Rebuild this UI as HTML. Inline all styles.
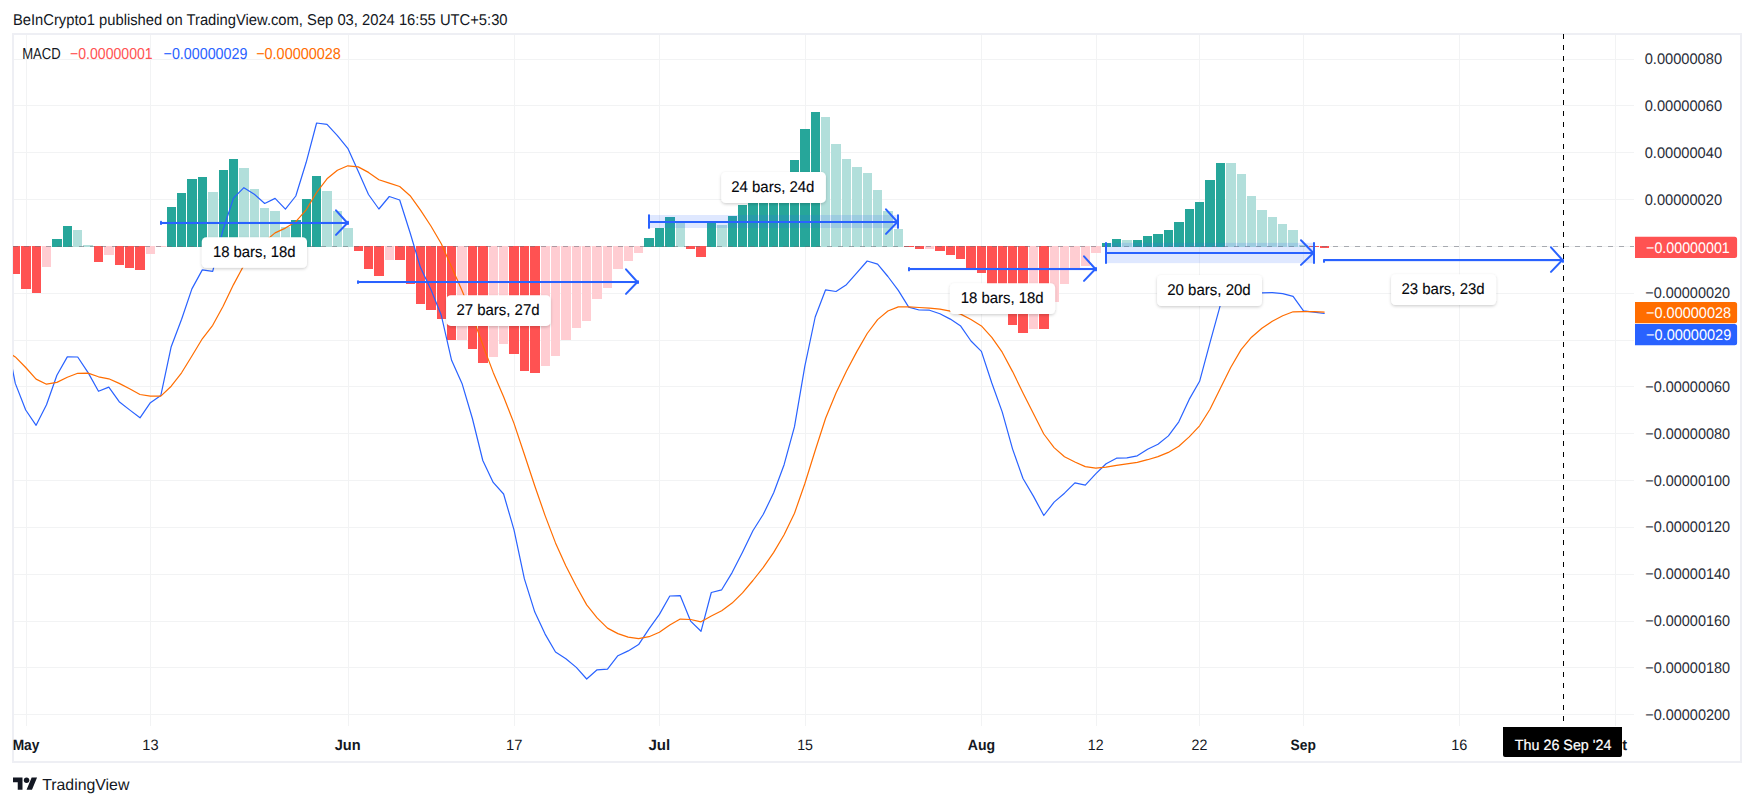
<!DOCTYPE html>
<html lang="en"><head><meta charset="utf-8"><title>MACD chart - TradingView</title>
<style>html,body{margin:0;padding:0;background:#fff;}body{width:1754px;height:806px;overflow:hidden;font-family:"Liberation Sans", Arial, Helvetica, sans-serif;}svg{display:block;}text{font-family:"Liberation Sans", Arial, Helvetica, sans-serif;text-rendering:geometricPrecision;}</style>
</head><body>
<svg width="1754" height="806" viewBox="0 0 1754 806">
<defs><clipPath id="pane"><rect x="13" y="35" width="1621" height="691"/></clipPath><clipPath id="taxis"><rect x="13" y="726" width="1727" height="35"/></clipPath><filter id="sh" x="-10%" y="-20%" width="120%" height="150%"><feDropShadow dx="0" dy="1.2" stdDeviation="1.6" flood-color="#000" flood-opacity="0.2"/></filter></defs>
<rect x="0" y="0" width="1754" height="806" fill="#ffffff"/>
<text x="12.95" y="25.0" font-size="15.6" fill="#131722" font-weight="normal" textLength="494.64" lengthAdjust="spacingAndGlyphs">BeInCrypto1 published on TradingView.com, Sep 03, 2024 16:55 UTC+5:30</text>
<rect x="13" y="34" width="1728" height="728" fill="#ffffff" stroke="#eeeff4" stroke-width="2"/>
<g stroke="#f2f3f4" stroke-width="1" shape-rendering="crispEdges"><line x1="14" x2="1634" y1="59.5" y2="59.5"/><line x1="14" x2="1634" y1="105.5" y2="105.5"/><line x1="14" x2="1634" y1="152.5" y2="152.5"/><line x1="14" x2="1634" y1="199.5" y2="199.5"/><line x1="14" x2="1634" y1="246.5" y2="246.5"/><line x1="14" x2="1634" y1="293.5" y2="293.5"/><line x1="14" x2="1634" y1="340.5" y2="340.5"/><line x1="14" x2="1634" y1="386.5" y2="386.5"/><line x1="14" x2="1634" y1="433.5" y2="433.5"/><line x1="14" x2="1634" y1="480.5" y2="480.5"/><line x1="14" x2="1634" y1="527.5" y2="527.5"/><line x1="14" x2="1634" y1="574.5" y2="574.5"/><line x1="14" x2="1634" y1="621.5" y2="621.5"/><line x1="14" x2="1634" y1="667.5" y2="667.5"/><line x1="14" x2="1634" y1="714.5" y2="714.5"/><line x1="26.5" x2="26.5" y1="35" y2="726"/><line x1="150.5" x2="150.5" y1="35" y2="726"/><line x1="348.5" x2="348.5" y1="35" y2="726"/><line x1="514.5" x2="514.5" y1="35" y2="726"/><line x1="659.5" x2="659.5" y1="35" y2="726"/><line x1="805.5" x2="805.5" y1="35" y2="726"/><line x1="981.5" x2="981.5" y1="35" y2="726"/><line x1="1096.5" x2="1096.5" y1="35" y2="726"/><line x1="1199.5" x2="1199.5" y1="35" y2="726"/><line x1="1303.5" x2="1303.5" y1="35" y2="726"/><line x1="1459.5" x2="1459.5" y1="35" y2="726"/><line x1="1615.5" x2="1615.5" y1="35" y2="726"/></g>
<g clip-path="url(#pane)" shape-rendering="crispEdges"><rect x="11" y="246" width="9" height="28" fill="#ff5252"/><rect x="21" y="246" width="10" height="43" fill="#ff5252"/><rect x="32" y="246" width="9" height="47" fill="#ff5252"/><rect x="42" y="246" width="9" height="21" fill="#ffcdd2"/><rect x="52" y="239" width="10" height="8" fill="#26a69a"/><rect x="63" y="226" width="9" height="21" fill="#26a69a"/><rect x="73" y="230" width="9" height="17" fill="#b2dfdb"/><rect x="83" y="245" width="10" height="2" fill="#b2dfdb"/><rect x="94" y="246" width="9" height="16" fill="#ff5252"/><rect x="104" y="246" width="10" height="9" fill="#ffcdd2"/><rect x="115" y="246" width="9" height="19" fill="#ff5252"/><rect x="125" y="246" width="9" height="22" fill="#ff5252"/><rect x="135" y="246" width="10" height="24" fill="#ff5252"/><rect x="146" y="246" width="9" height="8" fill="#ffcdd2"/><rect x="156" y="246" width="10" height="1" fill="#ffcdd2"/><rect x="167" y="207" width="9" height="40" fill="#26a69a"/><rect x="177" y="193" width="9" height="54" fill="#26a69a"/><rect x="187" y="179" width="10" height="68" fill="#26a69a"/><rect x="198" y="177" width="9" height="70" fill="#26a69a"/><rect x="208" y="192" width="10" height="55" fill="#b2dfdb"/><rect x="219" y="170" width="9" height="77" fill="#26a69a"/><rect x="229" y="159" width="9" height="88" fill="#26a69a"/><rect x="239" y="168" width="10" height="79" fill="#b2dfdb"/><rect x="250" y="189" width="9" height="58" fill="#b2dfdb"/><rect x="260" y="208" width="9" height="39" fill="#b2dfdb"/><rect x="270" y="211" width="10" height="36" fill="#b2dfdb"/><rect x="281" y="227" width="9" height="20" fill="#b2dfdb"/><rect x="291" y="220" width="10" height="27" fill="#26a69a"/><rect x="302" y="199" width="9" height="48" fill="#26a69a"/><rect x="312" y="176" width="9" height="71" fill="#26a69a"/><rect x="322" y="191" width="10" height="56" fill="#b2dfdb"/><rect x="333" y="211" width="9" height="36" fill="#b2dfdb"/><rect x="343" y="228" width="10" height="19" fill="#b2dfdb"/><rect x="354" y="246" width="9" height="5" fill="#ff5252"/><rect x="364" y="246" width="9" height="23" fill="#ff5252"/><rect x="374" y="246" width="10" height="30" fill="#ff5252"/><rect x="385" y="246" width="9" height="14" fill="#ffcdd2"/><rect x="395" y="246" width="10" height="14" fill="#ff5252"/><rect x="406" y="246" width="9" height="38" fill="#ff5252"/><rect x="416" y="246" width="9" height="58" fill="#ff5252"/><rect x="426" y="246" width="10" height="64" fill="#ff5252"/><rect x="437" y="246" width="9" height="73" fill="#ff5252"/><rect x="447" y="246" width="9" height="94" fill="#ff5252"/><rect x="457" y="246" width="10" height="94" fill="#ffcdd2"/><rect x="468" y="246" width="9" height="103" fill="#ff5252"/><rect x="478" y="246" width="10" height="117" fill="#ff5252"/><rect x="489" y="246" width="9" height="111" fill="#ffcdd2"/><rect x="499" y="246" width="9" height="98" fill="#ffcdd2"/><rect x="509" y="246" width="10" height="108" fill="#ff5252"/><rect x="520" y="246" width="9" height="125" fill="#ff5252"/><rect x="530" y="246" width="10" height="127" fill="#ff5252"/><rect x="541" y="246" width="9" height="120" fill="#ffcdd2"/><rect x="551" y="246" width="9" height="110" fill="#ffcdd2"/><rect x="561" y="246" width="10" height="94" fill="#ffcdd2"/><rect x="572" y="246" width="9" height="82" fill="#ffcdd2"/><rect x="582" y="246" width="9" height="75" fill="#ffcdd2"/><rect x="592" y="246" width="10" height="53" fill="#ffcdd2"/><rect x="603" y="246" width="9" height="42" fill="#ffcdd2"/><rect x="613" y="246" width="10" height="23" fill="#ffcdd2"/><rect x="624" y="246" width="9" height="15" fill="#ffcdd2"/><rect x="634" y="246" width="9" height="7" fill="#ffcdd2"/><rect x="644" y="238" width="10" height="9" fill="#26a69a"/><rect x="655" y="228" width="9" height="19" fill="#26a69a"/><rect x="665" y="217" width="10" height="30" fill="#26a69a"/><rect x="676" y="223" width="9" height="24" fill="#b2dfdb"/><rect x="686" y="246" width="9" height="3" fill="#ff5252"/><rect x="696" y="246" width="10" height="11" fill="#ff5252"/><rect x="707" y="223" width="9" height="24" fill="#26a69a"/><rect x="717" y="225" width="10" height="22" fill="#b2dfdb"/><rect x="728" y="216" width="9" height="31" fill="#26a69a"/><rect x="738" y="205" width="9" height="42" fill="#26a69a"/><rect x="748" y="196" width="10" height="51" fill="#26a69a"/><rect x="759" y="193" width="9" height="54" fill="#26a69a"/><rect x="769" y="186" width="9" height="61" fill="#26a69a"/><rect x="779" y="176" width="10" height="71" fill="#26a69a"/><rect x="790" y="160" width="9" height="87" fill="#26a69a"/><rect x="800" y="129" width="10" height="118" fill="#26a69a"/><rect x="811" y="112" width="9" height="135" fill="#26a69a"/><rect x="821" y="117" width="9" height="130" fill="#b2dfdb"/><rect x="831" y="144" width="10" height="103" fill="#b2dfdb"/><rect x="842" y="159" width="9" height="88" fill="#b2dfdb"/><rect x="852" y="167" width="10" height="80" fill="#b2dfdb"/><rect x="863" y="173" width="9" height="74" fill="#b2dfdb"/><rect x="873" y="190" width="9" height="57" fill="#b2dfdb"/><rect x="883" y="211" width="10" height="36" fill="#b2dfdb"/><rect x="894" y="229" width="9" height="18" fill="#b2dfdb"/><rect x="904" y="246" width="10" height="1" fill="#ff5252"/><rect x="915" y="246" width="9" height="3" fill="#ff5252"/><rect x="925" y="246" width="9" height="3" fill="#ffcdd2"/><rect x="935" y="246" width="10" height="5" fill="#ff5252"/><rect x="946" y="246" width="9" height="9" fill="#ff5252"/><rect x="956" y="246" width="9" height="13" fill="#ff5252"/><rect x="966" y="246" width="10" height="23" fill="#ff5252"/><rect x="977" y="246" width="9" height="27" fill="#ff5252"/><rect x="987" y="246" width="10" height="47" fill="#ff5252"/><rect x="998" y="246" width="9" height="61" fill="#ff5252"/><rect x="1008" y="246" width="9" height="79" fill="#ff5252"/><rect x="1018" y="246" width="10" height="87" fill="#ff5252"/><rect x="1029" y="246" width="9" height="83" fill="#ffcdd2"/><rect x="1039" y="246" width="10" height="83" fill="#ff5252"/><rect x="1050" y="246" width="9" height="56" fill="#ffcdd2"/><rect x="1060" y="246" width="9" height="38" fill="#ffcdd2"/><rect x="1070" y="246" width="10" height="22" fill="#ffcdd2"/><rect x="1081" y="246" width="9" height="20" fill="#ffcdd2"/><rect x="1091" y="246" width="10" height="7" fill="#ffcdd2"/><rect x="1102" y="243" width="9" height="4" fill="#26a69a"/><rect x="1112" y="239" width="9" height="8" fill="#26a69a"/><rect x="1122" y="240" width="10" height="7" fill="#b2dfdb"/><rect x="1133" y="240" width="9" height="7" fill="#26a69a"/><rect x="1143" y="236" width="9" height="11" fill="#26a69a"/><rect x="1153" y="234" width="10" height="13" fill="#26a69a"/><rect x="1164" y="230" width="9" height="17" fill="#26a69a"/><rect x="1174" y="222" width="10" height="25" fill="#26a69a"/><rect x="1185" y="209" width="9" height="38" fill="#26a69a"/><rect x="1195" y="202" width="9" height="45" fill="#26a69a"/><rect x="1205" y="180" width="10" height="67" fill="#26a69a"/><rect x="1216" y="163" width="9" height="84" fill="#26a69a"/><rect x="1226" y="163" width="10" height="84" fill="#b2dfdb"/><rect x="1237" y="174" width="9" height="73" fill="#b2dfdb"/><rect x="1247" y="196" width="9" height="51" fill="#b2dfdb"/><rect x="1257" y="210" width="10" height="37" fill="#b2dfdb"/><rect x="1268" y="217" width="9" height="30" fill="#b2dfdb"/><rect x="1278" y="224" width="9" height="23" fill="#b2dfdb"/><rect x="1288" y="230" width="10" height="17" fill="#b2dfdb"/><rect x="1299" y="245" width="9" height="2" fill="#b2dfdb"/><rect x="1309" y="246" width="10" height="1" fill="#ff5252"/><rect x="1320" y="246" width="9" height="2" fill="#ff5252"/></g>
<line x1="13" x2="1634" y1="246.5" y2="246.5" stroke="#6a6d78" stroke-opacity="0.55" stroke-width="1" stroke-dasharray="5 6" shape-rendering="crispEdges" clip-path="url(#pane)"/>
<g clip-path="url(#pane)" fill="none" stroke-linejoin="round" stroke-linecap="round">
<path d="M5.0 331.4 L15.3 383.4 L25.7 410.0 L36.1 425.3 L46.5 404.7 L56.9 375.3 L67.3 356.9 L77.7 357.0 L88.1 372.6 L98.5 391.3 L108.8 387.1 L119.2 401.7 L129.6 409.9 L140.0 417.8 L150.4 402.7 L160.8 395.6 L171.2 346.7 L181.6 319.3 L191.9 288.9 L202.3 269.9 L212.7 271.4 L223.1 229.7 L233.5 198.1 L243.9 187.7 L254.3 194.2 L264.7 203.5 L275.1 198.4 L285.4 209.2 L295.8 196.0 L306.2 162.3 L316.6 123.0 L327.0 124.3 L337.4 135.7 L347.8 148.3 L358.2 171.3 L368.5 194.5 L378.9 209.0 L389.3 196.5 L399.7 200.0 L410.1 232.7 L420.5 267.6 L430.9 289.5 L441.3 315.3 L451.6 360.3 L462.0 383.4 L472.4 418.5 L482.8 460.5 L493.2 482.4 L503.6 494.0 L514.0 529.9 L524.4 578.9 L534.8 612.1 L545.1 634.1 L555.5 652.0 L565.9 658.7 L576.3 667.4 L586.7 679.0 L597.1 669.8 L607.5 669.1 L617.9 655.7 L628.2 650.9 L638.6 644.6 L649.0 628.9 L659.4 614.4 L669.8 596.0 L680.2 595.6 L690.6 621.1 L701.0 631.3 L711.3 592.5 L721.7 589.8 L732.1 572.6 L742.5 552.2 L752.9 530.7 L763.3 514.3 L773.7 492.8 L784.1 464.7 L794.5 426.7 L804.8 366.3 L815.2 317.0 L825.6 289.8 L836.0 291.5 L846.4 284.7 L856.8 272.9 L867.2 261.0 L877.6 264.1 L887.9 276.5 L898.3 290.4 L908.7 307.1 L919.1 310.0 L929.5 310.2 L939.9 313.7 L950.3 319.1 L960.7 326.1 L971.0 341.0 L981.4 351.4 L991.8 383.0 L1002.2 411.9 L1012.6 449.1 L1023.0 478.5 L1033.4 496.1 L1043.8 515.5 L1054.1 502.1 L1064.5 493.2 L1074.9 482.8 L1085.3 485.1 L1095.7 473.9 L1106.1 463.7 L1116.5 458.2 L1126.9 457.8 L1137.3 455.8 L1147.6 449.2 L1158.0 444.2 L1168.4 435.9 L1178.8 421.8 L1189.2 399.4 L1199.6 381.3 L1210.0 342.7 L1220.4 304.9 L1230.7 284.0 L1241.1 278.1 L1251.5 287.7 L1261.9 292.8 L1272.3 292.6 L1282.7 293.6 L1293.1 296.3 L1303.5 310.8 L1313.8 312.1 L1324.2 313.5" stroke="#2962ff" stroke-width="1.2"/>
<path d="M5.0 350.3 L15.3 356.9 L25.7 367.5 L36.1 379.1 L46.5 384.2 L56.9 382.4 L67.3 377.3 L77.7 373.3 L88.1 373.1 L98.5 376.8 L108.8 378.8 L119.2 383.4 L129.6 388.7 L140.0 394.5 L150.4 396.2 L160.8 396.1 L171.2 386.2 L181.6 372.8 L191.9 356.0 L202.3 338.8 L212.7 325.3 L223.1 306.2 L233.5 284.6 L243.9 265.2 L254.3 251.0 L264.7 241.5 L275.1 232.9 L285.4 228.1 L295.8 221.7 L306.2 209.8 L316.6 192.5 L327.0 178.8 L337.4 170.2 L347.8 165.8 L358.2 166.9 L368.5 172.4 L378.9 179.8 L389.3 183.1 L399.7 186.5 L410.1 195.7 L420.5 210.1 L430.9 226.0 L441.3 243.8 L451.6 267.1 L462.0 290.4 L472.4 316.0 L482.8 344.9 L493.2 372.4 L503.6 396.7 L514.0 423.4 L524.4 454.5 L534.8 486.0 L545.1 515.6 L555.5 542.9 L565.9 566.1 L576.3 586.3 L586.7 604.9 L597.1 617.9 L607.5 628.1 L617.9 633.6 L628.2 637.1 L638.6 638.6 L649.0 636.7 L659.4 632.2 L669.8 624.9 L680.2 619.1 L690.6 619.5 L701.0 621.8 L711.3 616.0 L721.7 610.7 L732.1 603.1 L742.5 592.9 L752.9 580.5 L763.3 567.3 L773.7 552.4 L784.1 534.8 L794.5 513.2 L804.8 483.8 L815.2 450.5 L825.6 418.3 L836.0 393.0 L846.4 371.3 L856.8 351.6 L867.2 333.5 L877.6 319.6 L887.9 311.0 L898.3 306.9 L908.7 306.9 L919.1 307.5 L929.5 308.1 L939.9 309.2 L950.3 311.2 L960.7 314.1 L971.0 319.5 L981.4 325.9 L991.8 337.3 L1002.2 352.2 L1012.6 371.6 L1023.0 393.0 L1033.4 413.6 L1043.8 434.0 L1054.1 447.6 L1064.5 456.7 L1074.9 462.0 L1085.3 466.6 L1095.7 468.1 L1106.1 467.2 L1116.5 465.4 L1126.9 463.9 L1137.3 462.3 L1147.6 459.7 L1158.0 456.6 L1168.4 452.4 L1178.8 446.3 L1189.2 436.9 L1199.6 425.8 L1210.0 409.2 L1220.4 388.3 L1230.7 367.5 L1241.1 349.6 L1251.5 337.2 L1261.9 328.3 L1272.3 321.2 L1282.7 315.7 L1293.1 311.8 L1303.5 311.6 L1313.8 311.7 L1324.2 312.1" stroke="#ff6d00" stroke-width="1.2"/>
</g>
<g><rect x="162.0" y="221.6" width="185.0" height="2.6" fill="#2962ff" fill-opacity="0.15"/><g fill="none" stroke="#2962ff" stroke-width="2"><line x1="161.0" x2="347.4" y1="223.0" y2="223.0" stroke-linecap="butt"/><path d="M336.0 210.3 L347.4 223.0 L336.0 234.9" stroke-linejoin="round" stroke-linecap="round"/></g><rect x="160.0" y="220.8" width="2" height="4.2" rx="0.9" fill="#2962ff"/><rect x="347.0" y="220.8" width="2" height="4.2" rx="0.9" fill="#2962ff"/></g>
<g><rect x="359.0" y="281.1" width="278.0" height="2.1" fill="#2962ff" fill-opacity="0.15"/><g fill="none" stroke="#2962ff" stroke-width="2"><line x1="358.0" x2="637.4" y1="282.0" y2="282.0" stroke-linecap="butt"/><path d="M626.0 269.3 L637.4 282.0 L626.0 293.9" stroke-linejoin="round" stroke-linecap="round"/></g><rect x="357.0" y="280.3" width="2" height="3.7" rx="0.9" fill="#2962ff"/><rect x="637.0" y="280.3" width="2" height="3.7" rx="0.9" fill="#2962ff"/></g>
<g><rect x="650.0" y="215.0" width="247.0" height="13.0" fill="#2962ff" fill-opacity="0.15"/><g fill="none" stroke="#2962ff" stroke-width="2"><line x1="649.0" x2="897.4" y1="222.0" y2="222.0" stroke-linecap="butt"/><path d="M886.0 209.3 L897.4 222.0 L886.0 233.9" stroke-linejoin="round" stroke-linecap="round"/></g><rect x="648.0" y="214.2" width="2" height="14.6" rx="0.9" fill="#2962ff"/><rect x="897.0" y="214.2" width="2" height="14.6" rx="0.9" fill="#2962ff"/></g>
<g><rect x="910.0" y="267.8" width="185.0" height="2.7" fill="#2962ff" fill-opacity="0.15"/><g fill="none" stroke="#2962ff" stroke-width="2"><line x1="909.0" x2="1095.4" y1="269.0" y2="269.0" stroke-linecap="butt"/><path d="M1084.0 256.3 L1095.4 269.0 L1084.0 280.9" stroke-linejoin="round" stroke-linecap="round"/></g><rect x="908.0" y="267.0" width="2" height="4.3" rx="0.9" fill="#2962ff"/><rect x="1095.0" y="267.0" width="2" height="4.3" rx="0.9" fill="#2962ff"/></g>
<g><rect x="1107.0" y="242.9" width="206.0" height="20.2" fill="#2962ff" fill-opacity="0.15"/><g fill="none" stroke="#2962ff" stroke-width="2"><line x1="1106.0" x2="1313.4" y1="253.0" y2="253.0" stroke-linecap="butt"/><path d="M1301.0 240.3 L1313.4 253.0 L1301.0 264.9" stroke-linejoin="round" stroke-linecap="round"/></g><rect x="1105.0" y="242.1" width="2" height="21.8" rx="0.9" fill="#2962ff"/><rect x="1313.0" y="242.1" width="2" height="21.8" rx="0.9" fill="#2962ff"/></g>
<g><rect x="1325.0" y="259.8" width="237.0" height="2.2" fill="#2962ff" fill-opacity="0.15"/><g fill="none" stroke="#2962ff" stroke-width="2"><line x1="1324.0" x2="1562.4" y1="260.0" y2="260.0" stroke-linecap="butt"/><path d="M1551.0 247.3 L1562.4 260.0 L1551.0 271.9" stroke-linejoin="round" stroke-linecap="round"/></g><rect x="1323.0" y="259.0" width="2" height="3.8" rx="0.9" fill="#2962ff"/><rect x="1562.0" y="259.0" width="2" height="3.8" rx="0.9" fill="#2962ff"/></g>
<rect x="201.8" y="237.3" width="105.2" height="30.4" rx="4.5" ry="4.5" fill="#ffffff" filter="url(#sh)"/>
<text x="212.90" y="257.0" font-size="15.5" fill="#05070c" font-weight="normal" textLength="82.72" lengthAdjust="spacingAndGlyphs" stroke="#05070c" stroke-width="0.12">18 bars, 18d</text>
<rect x="446.4" y="295.2" width="104.3" height="30.7" rx="4.5" ry="4.5" fill="#ffffff" filter="url(#sh)"/>
<text x="456.40" y="315.0" font-size="15.5" fill="#05070c" font-weight="normal" textLength="83.21" lengthAdjust="spacingAndGlyphs" stroke="#05070c" stroke-width="0.12">27 bars, 27d</text>
<rect x="721.2" y="172.1" width="104.7" height="30.8" rx="4.5" ry="4.5" fill="#ffffff" filter="url(#sh)"/>
<text x="731.20" y="192.0" font-size="15.5" fill="#05070c" font-weight="normal" textLength="83.27" lengthAdjust="spacingAndGlyphs" stroke="#05070c" stroke-width="0.12">24 bars, 24d</text>
<rect x="949.9" y="283.3" width="105.2" height="30.8" rx="4.5" ry="4.5" fill="#ffffff" filter="url(#sh)"/>
<text x="960.70" y="303.0" font-size="15.5" fill="#05070c" font-weight="normal" textLength="82.97" lengthAdjust="spacingAndGlyphs" stroke="#05070c" stroke-width="0.12">18 bars, 18d</text>
<rect x="1157.1" y="275.0" width="104.9" height="31.0" rx="4.5" ry="4.5" fill="#ffffff" filter="url(#sh)"/>
<text x="1167.19" y="295.0" font-size="15.5" fill="#05070c" font-weight="normal" textLength="83.51" lengthAdjust="spacingAndGlyphs" stroke="#05070c" stroke-width="0.12">20 bars, 20d</text>
<rect x="1391.1" y="274.2" width="105.0" height="30.8" rx="4.5" ry="4.5" fill="#ffffff" filter="url(#sh)"/>
<text x="1401.40" y="294.0" font-size="15.5" fill="#05070c" font-weight="normal" textLength="83.31" lengthAdjust="spacingAndGlyphs" stroke="#05070c" stroke-width="0.12">23 bars, 23d</text>
<line x1="1563.5" x2="1563.5" y1="34" y2="722" stroke="#000" stroke-width="1" stroke-dasharray="5 6" shape-rendering="crispEdges"/>
<text x="22.15" y="59.0" font-size="15.9" fill="#131722" font-weight="normal" textLength="38.52" lengthAdjust="spacingAndGlyphs">MACD</text>
<text x="70.07" y="59.0" font-size="15.9" fill="#ff5252" font-weight="normal" textLength="82.59" lengthAdjust="spacingAndGlyphs">−0.00000001</text>
<text x="163.55" y="59.0" font-size="15.9" fill="#2962ff" font-weight="normal" textLength="83.83" lengthAdjust="spacingAndGlyphs">−0.00000029</text>
<text x="256.14" y="59.0" font-size="15.9" fill="#ff6d00" font-weight="normal" textLength="84.75" lengthAdjust="spacingAndGlyphs">−0.00000028</text>
<text x="1644.67" y="64.0" font-size="15.3" fill="#2a2e39" textLength="77.42" lengthAdjust="spacingAndGlyphs">0.00000080</text>
<text x="1644.67" y="111.0" font-size="15.3" fill="#2a2e39" textLength="77.42" lengthAdjust="spacingAndGlyphs">0.00000060</text>
<text x="1644.67" y="158.0" font-size="15.3" fill="#2a2e39" textLength="77.42" lengthAdjust="spacingAndGlyphs">0.00000040</text>
<text x="1644.67" y="205.0" font-size="15.3" fill="#2a2e39" textLength="77.42" lengthAdjust="spacingAndGlyphs">0.00000020</text>
<text x="1645.24" y="298.0" font-size="15.3" fill="#2a2e39" textLength="84.84" lengthAdjust="spacingAndGlyphs">−0.00000020</text>
<text x="1645.24" y="392.0" font-size="15.3" fill="#2a2e39" textLength="84.84" lengthAdjust="spacingAndGlyphs">−0.00000060</text>
<text x="1645.24" y="439.0" font-size="15.3" fill="#2a2e39" textLength="84.84" lengthAdjust="spacingAndGlyphs">−0.00000080</text>
<text x="1645.24" y="486.0" font-size="15.3" fill="#2a2e39" textLength="84.84" lengthAdjust="spacingAndGlyphs">−0.00000100</text>
<text x="1645.24" y="532.0" font-size="15.3" fill="#2a2e39" textLength="84.84" lengthAdjust="spacingAndGlyphs">−0.00000120</text>
<text x="1645.24" y="579.0" font-size="15.3" fill="#2a2e39" textLength="84.84" lengthAdjust="spacingAndGlyphs">−0.00000140</text>
<text x="1645.24" y="626.0" font-size="15.3" fill="#2a2e39" textLength="84.84" lengthAdjust="spacingAndGlyphs">−0.00000160</text>
<text x="1645.24" y="673.0" font-size="15.3" fill="#2a2e39" textLength="84.84" lengthAdjust="spacingAndGlyphs">−0.00000180</text>
<text x="1645.24" y="720.0" font-size="15.3" fill="#2a2e39" textLength="84.84" lengthAdjust="spacingAndGlyphs">−0.00000200</text>
<path d="M1635 236.8 H1734.6 a2.5 2.5 0 0 1 2.5 2.5 V255.6 a2.5 2.5 0 0 1 -2.5 2.5 H1635 Z" fill="#ff5252"/>
<text x="1646.05" y="252.9" font-size="15.3" fill="#ffffff" font-weight="normal" textLength="83.71" lengthAdjust="spacingAndGlyphs">−0.00000001</text>
<path d="M1635 302.1 H1734.6 a2.5 2.5 0 0 1 2.5 2.5 V320.7 a2.5 2.5 0 0 1 -2.5 2.5 H1635 Z" fill="#ff6d00"/>
<text x="1646.04" y="318.1" font-size="15.3" fill="#ffffff" font-weight="normal" textLength="85.09" lengthAdjust="spacingAndGlyphs">−0.00000028</text>
<path d="M1635 323.9 H1734.6 a2.5 2.5 0 0 1 2.5 2.5 V342.7 a2.5 2.5 0 0 1 -2.5 2.5 H1635 Z" fill="#2962ff"/>
<text x="1646.04" y="340.0" font-size="15.3" fill="#ffffff" font-weight="normal" textLength="85.21" lengthAdjust="spacingAndGlyphs">−0.00000029</text>
<g clip-path="url(#taxis)">
<text x="12.63" y="750.0" font-size="15.0" fill="#131722" font-weight="bold" textLength="26.76" lengthAdjust="spacingAndGlyphs">May</text>
<text x="142.28" y="750.0" font-size="15.0" fill="#131722" font-weight="normal" textLength="16.24" lengthAdjust="spacingAndGlyphs">13</text>
<text x="334.69" y="750.0" font-size="15.0" fill="#131722" font-weight="bold" textLength="25.91" lengthAdjust="spacingAndGlyphs">Jun</text>
<text x="505.97" y="750.0" font-size="15.0" fill="#131722" font-weight="normal" textLength="16.41" lengthAdjust="spacingAndGlyphs">17</text>
<text x="648.48" y="750.0" font-size="15.0" fill="#131722" font-weight="bold" textLength="21.82" lengthAdjust="spacingAndGlyphs">Jul</text>
<text x="797.22" y="750.0" font-size="15.0" fill="#131722" font-weight="normal" textLength="15.80" lengthAdjust="spacingAndGlyphs">15</text>
<text x="967.73" y="750.0" font-size="15.0" fill="#131722" font-weight="bold" textLength="27.39" lengthAdjust="spacingAndGlyphs">Aug</text>
<text x="1087.82" y="750.0" font-size="15.0" fill="#131722" font-weight="normal" textLength="15.79" lengthAdjust="spacingAndGlyphs">12</text>
<text x="1191.47" y="750.0" font-size="15.0" fill="#131722" font-weight="normal" textLength="15.85" lengthAdjust="spacingAndGlyphs">22</text>
<text x="1290.56" y="750.0" font-size="15.0" fill="#131722" font-weight="bold" textLength="25.32" lengthAdjust="spacingAndGlyphs">Sep</text>
<text x="1451.19" y="750.0" font-size="15.0" fill="#131722" font-weight="normal" textLength="16.08" lengthAdjust="spacingAndGlyphs">16</text>
<text x="1603.12" y="750.0" font-size="15.0" fill="#131722" font-weight="bold" textLength="23.96" lengthAdjust="spacingAndGlyphs">Oct</text>
</g>
<path d="M1503 727 H1622 V755 a2 2 0 0 1 -2 2 H1505 a2 2 0 0 1 -2 -2 Z" fill="#000000"/>
<text x="1514.87" y="750.0" font-size="14.9" fill="#ffffff" font-weight="normal" textLength="96.58" lengthAdjust="spacingAndGlyphs" stroke="#ffffff" stroke-width="0.2">Thu 26 Sep '24</text>
<g transform="translate(13 774.9) scale(0.678)" fill="#131722"><path d="M14 22H7V11H0V4h14v18zM28 22h-8l7.5-18h8L28 22z"/><circle cx="20" cy="8" r="4"/></g>
<text x="42.18" y="790.0" font-size="15.9" fill="#131722" font-weight="normal" textLength="87.22" lengthAdjust="spacingAndGlyphs">TradingView</text>
</svg>
</body></html>
